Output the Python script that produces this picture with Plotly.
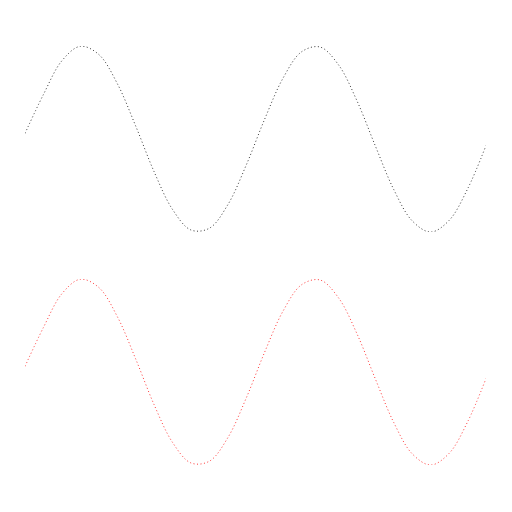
import plotly.graph_objects as go

x_vals = [0.0, 0.5, 1.0, 1.5, 2.0, 2.5, 3.0, 3.5, 4.0, 4.5, 5.0, 5.5, 6.0,
          6.5, 7.0, 7.5, 8.0, 8.5, 9.0, 9.5, 10.0, 10.5, 11.0, 11.5, 12.0, 12.5]
top_vals = [0.06, 0.479, 0.841, 0.997, 0.909, 0.598, 0.141, -0.351, -0.757, -0.978,
            -0.959, -0.706, -0.279, 0.215, 0.657, 0.938, 0.989, 0.798, 0.412,
            -0.075, -0.544, -0.880, -1.0, -0.875, -0.537, -0.07]
bottom_vals = [0.06, 0.479, 0.841, 0.997, 0.909, 0.598, 0.141, -0.351, -0.757, -0.978,
               -0.959, -0.706, -0.279, 0.215, 0.657, 0.938, 0.989, 0.798, 0.412,
               -0.075, -0.544, -0.880, -1.0, -0.875, -0.537, -0.07]

fig = go.Figure()
fig.add_trace(go.Scatter(x=x_vals, y=top_vals, mode="lines", xaxis="x", yaxis="y",
                         line=dict(color="black", width=0.8, dash="1px,2.5px", shape="spline"),
                         showlegend=False, hoverinfo="skip"))
fig.add_trace(go.Scatter(x=x_vals, y=bottom_vals, mode="lines", xaxis="x2", yaxis="y2",
                         line=dict(color="red", width=0.8, dash="1px,2.5px", shape="spline"),
                         showlegend=False, hoverinfo="skip"))

ax = dict(visible=False, showgrid=False, zeroline=False)
fig.update_layout(
    width=512, height=512,
    margin=dict(l=25, r=26, t=46, b=47),
    paper_bgcolor="white", plot_bgcolor="white",
    xaxis=dict(domain=[0, 1], range=[0, 12.5], anchor="y", **ax),
    yaxis=dict(domain=[0.556, 1.0], range=[-1, 1], anchor="x", **ax),
    xaxis2=dict(domain=[0, 1], range=[0, 12.5], anchor="y2", **ax),
    yaxis2=dict(domain=[0.0, 0.444], range=[-1, 1], anchor="x2", **ax),
)
fig.write_html("out.html")
